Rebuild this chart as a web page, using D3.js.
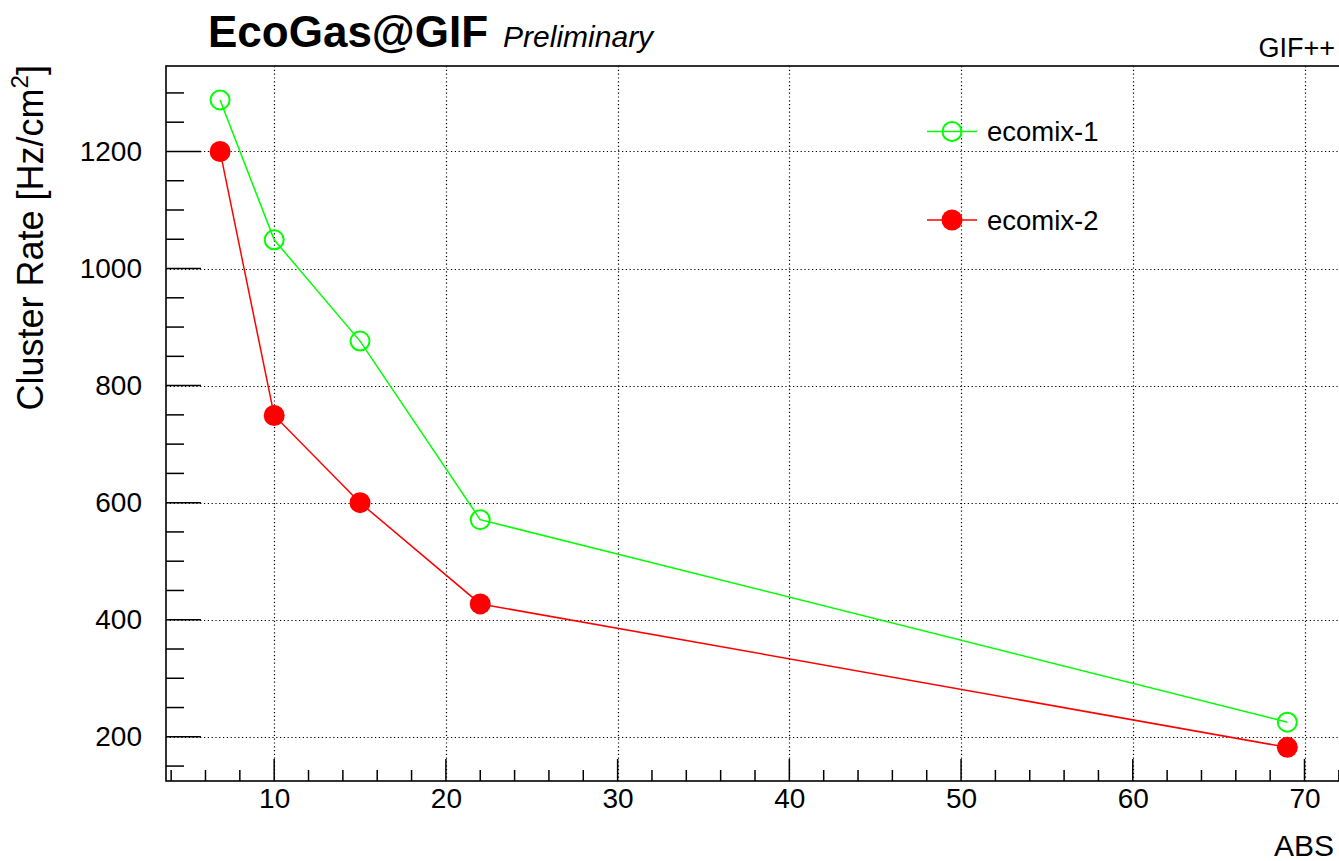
<!DOCTYPE html>
<html>
<head>
<meta charset="utf-8">
<script src="https://cdn.jsdelivr.net/npm/d3@7"></script>
<style>
html,body{margin:0;padding:0;background:#fff;overflow:hidden;}
svg{display:block;font-family:"Liberation Sans",Arial,Helvetica,sans-serif;}
</style>
</head>
<body>
<svg id="chart" width="1339" height="861"></svg>
<script>
// ---- data ----
const absValues = [6.85, 10, 15, 22, 69];
const ecomix1 = [1288, 1049, 876, 571, 225];
const ecomix2 = [1200, 749, 600, 427, 182];
const seriesNames = ["ecomix-1", "ecomix-2"];
const xTickValues = [10, 20, 30, 40, 50, 60, 70];
const yTickValues = [200, 400, 600, 800, 1000, 1200];

const svg = d3.select("#chart");
const L = 166, T = 66, B = 781, R = 1344;

const x = d3.scaleLinear().domain([3.7, 72.3]).range([L, R]);
const y = d3.scaleLinear().domain([124.5, 1346]).range([B, T]);

// grid
const grid = svg.append("g").attr("stroke", "#000").attr("stroke-width", 1.2)
  .attr("stroke-dasharray", "1.2,2.6").attr("fill", "none");
grid.selectAll("line.gx").data(xTickValues).join("line")
  .attr("x1", d => Math.round(x(d)) + 0.5).attr("x2", d => Math.round(x(d)) + 0.5)
  .attr("y1", T).attr("y2", B);
grid.selectAll("line.gy").data(yTickValues).join("line")
  .attr("y1", d => Math.round(y(d)) + 0.5).attr("y2", d => Math.round(y(d)) + 0.5)
  .attr("x1", L).attr("x2", R);

// x axis (ticks pointing up, inside)
const xMinor = d3.range(4, 73, 2).filter(v => v % 10 !== 0);
const xAxis = d3.axisBottom(x).tickValues(xTickValues).tickSize(0).tickPadding(0).tickFormat(d3.format("d"));
const gx = svg.append("g").attr("transform", `translate(0,${B})`).call(xAxis);
gx.select(".domain").remove();
gx.selectAll(".tick text").attr("font-size", 28).attr("fill", "#000").attr("dy", null).attr("y", 27)
  .attr("font-family", "Liberation Sans, Arial, sans-serif");
const tickG = svg.append("g").attr("stroke", "#000").attr("stroke-width", 1.5);
tickG.selectAll("line.xmaj").data(xTickValues).join("line")
  .attr("x1", d => x(d)).attr("x2", d => x(d)).attr("y1", B).attr("y2", B - 22);
tickG.selectAll("line.xmin").data(xMinor).join("line")
  .attr("x1", d => x(d)).attr("x2", d => x(d)).attr("y1", B).attr("y2", B - 11);

// y axis (ticks pointing right, inside)
const yMinor = d3.range(150, 1346, 50).filter(v => v % 200 !== 0);
const yAxis = d3.axisLeft(y).tickValues(yTickValues).tickSize(0).tickPadding(0).tickFormat(d3.format("d"));
const gy = svg.append("g").attr("transform", `translate(${L},0)`).call(yAxis);
gy.select(".domain").remove();
gy.selectAll(".tick text").attr("font-size", 28).attr("fill", "#000").attr("x", -24)
  .attr("font-family", "Liberation Sans, Arial, sans-serif");
tickG.selectAll("line.ymaj").data(yTickValues).join("line")
  .attr("y1", d => y(d)).attr("y2", d => y(d)).attr("x1", L).attr("x2", L + 35);
tickG.selectAll("line.ymin").data(yMinor).join("line")
  .attr("y1", d => y(d)).attr("y2", d => y(d)).attr("x1", L).attr("x2", L + 18);

// frame
svg.append("rect").attr("x", L).attr("y", T).attr("width", R - L).attr("height", B - T)
  .attr("fill", "none").attr("stroke", "#000").attr("stroke-width", 1.6);

// series
const series = [
  {name: seriesNames[0], vals: ecomix1, color: "#00ff00", filled: false},
  {name: seriesNames[1], vals: ecomix2, color: "#ff0000", filled: true}
];
const line = d3.line().x(d => x(d[0])).y(d => y(d[1]));
series.forEach(s => {
  const pts = absValues.map((a, i) => [a, s.vals[i]]);
  svg.append("path").datum(pts).attr("d", line).attr("fill", "none")
    .attr("stroke", s.color).attr("stroke-width", 1.5);
  svg.append("g").selectAll("circle").data(pts).join("circle")
    .attr("cx", d => x(d[0])).attr("cy", d => y(d[1]))
    .attr("r", s.filled ? 10.5 : 9.5)
    .attr("fill", s.filled ? s.color : "none")
    .attr("stroke", s.color).attr("stroke-width", s.filled ? 0 : 2);
});

// legend
const legY = [131.5, 220];
series.forEach((s, i) => {
  const g = svg.append("g");
  g.append("line").attr("x1", 927).attr("x2", 977).attr("y1", legY[i]).attr("y2", legY[i])
    .attr("stroke", s.color).attr("stroke-width", 1.5);
  g.append("circle").attr("cx", 952).attr("cy", legY[i]).attr("r", s.filled ? 10.5 : 9.5)
    .attr("fill", s.filled ? s.color : "none").attr("stroke", s.color).attr("stroke-width", s.filled ? 0 : 2);
  g.append("text").attr("x", 987).attr("y", legY[i]).attr("dy", "0.36em")
    .attr("font-size", 27.5).attr("fill", "#000").text(s.name);
});

// titles
const title = svg.append("text").attr("x", 208).attr("y", 47);
title.append("tspan").attr("font-size", 44).attr("font-weight", "bold").text("EcoGas@GIF");
title.append("tspan").attr("dx", 15).attr("font-size", 30).attr("font-style", "italic").text("Preliminary");

svg.append("text").attr("x", 1335).attr("y", 57).attr("text-anchor", "end")
  .attr("font-size", 27).text("GIF++");

svg.append("text").attr("x", 1334).attr("y", 856).attr("text-anchor", "end")
  .attr("font-size", 30).text("ABS");

const yl = svg.append("text").attr("transform", "translate(43,65) rotate(-90)")
  .attr("text-anchor", "end").attr("font-size", 36);
yl.append("tspan").text("Cluster Rate [Hz/cm");
yl.append("tspan").attr("font-size", 24).attr("dy", -15).text("2");
yl.append("tspan").attr("dy", 15).text("]");
</script>
</body>
</html>
